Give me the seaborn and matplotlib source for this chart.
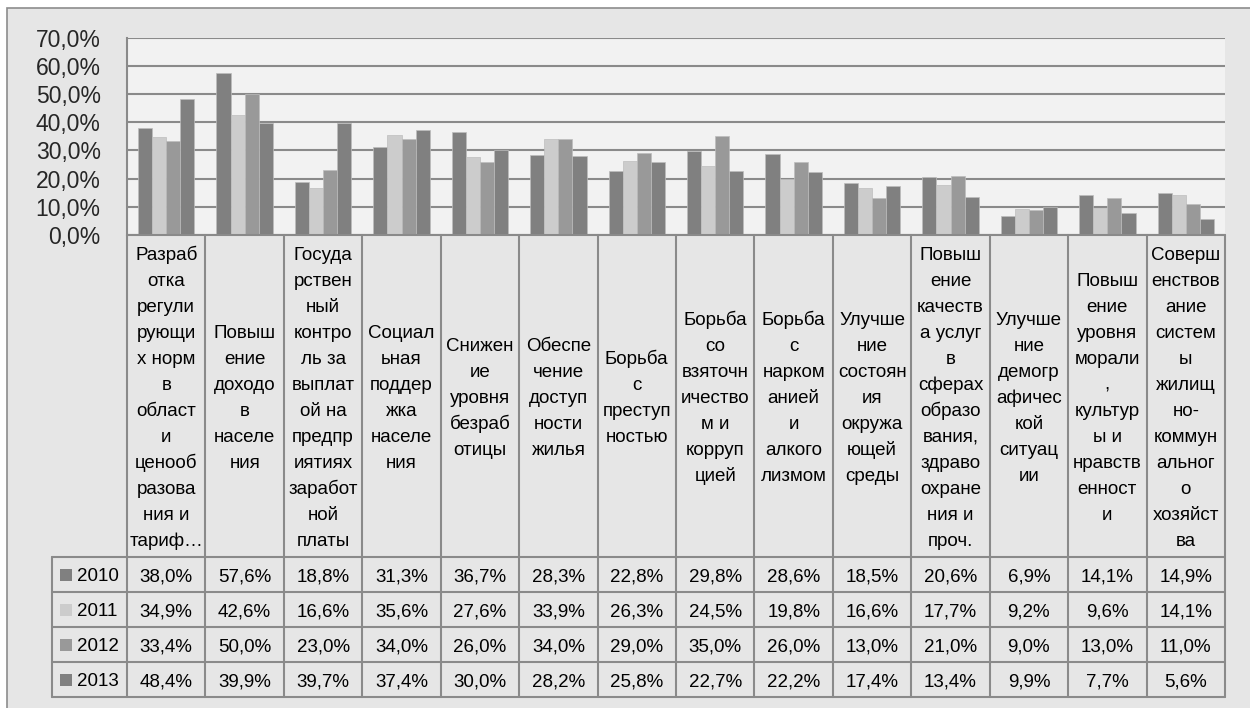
import numpy as np
import pandas as pd
import matplotlib
matplotlib.use("Agg")
import matplotlib.pyplot as plt
import matplotlib.transforms as mtransforms
from matplotlib.patches import Rectangle
from matplotlib.lines import Line2D
import seaborn as sns

# data
categories = [
    "Разраб\nотка\nрегули\nрующи\nх норм\nв\nобласт\nи\nценооб\nразова\nния и\nтариф…",
    "Повыш\nение\nдоходо\nв\nнаселе\nния",
    "Госуда\nрствен\nный\nконтро\nль за\nвыплат\nой на\nпредпр\nиятиях\nзаработ\nной\nплаты",
    "Социал\nьная\nподдер\nжка\nнаселе\nния",
    "Снижен\nие\nуровня\nбезраб\nотицы",
    "Обеспе\nчение\nдоступ\nности\nжилья",
    "Борьба\nс\nпреступ\nностью",
    "Борьба\nсо\nвзяточн\nичество\nм и\nкорруп\nцией",
    "Борьба\nс\nнарком\nанией\nи\nалкого\nлизмом",
    "Улучше\nние\nсостоян\nия\nокружа\nющей\nсреды",
    "Повыш\nение\nкачеств\nа услуг\nв\nсферах\nобразо\nвания,\nздраво\nохране\nния и\nпроч.",
    "Улучше\nние\nдемогр\nафичес\nкой\nситуац\nии",
    "Повыш\nение\nуровня\nморали\n,\nкультур\nы и\nнравств\nенност\nи",
    "Соверш\nенствов\nание\nсистем\nы\nжилищ\nно-\nкоммун\nальног\nо\nхозяйст\nва",
]
years = ["2010", "2011", "2012", "2013"]
v2010 = [38.0, 57.6, 18.8, 31.3, 36.7, 28.3, 22.8, 29.8, 28.6, 18.5, 20.6, 6.9, 14.1, 14.9]
v2011 = [34.9, 42.6, 16.6, 35.6, 27.6, 33.9, 26.3, 24.5, 19.8, 16.6, 17.7, 9.2, 9.6, 14.1]
v2012 = [33.4, 50.0, 23.0, 34.0, 26.0, 34.0, 29.0, 35.0, 26.0, 13.0, 21.0, 9.0, 13.0, 11.0]
v2013 = [48.4, 39.9, 39.7, 37.4, 30.0, 28.2, 25.8, 22.7, 22.2, 17.4, 13.4, 9.9, 7.7, 5.6]
series = [v2010, v2011, v2012, v2013]
colors = ["#808080", "#cccccc", "#999999", "#808080"]
yticks = [0, 10, 20, 30, 40, 50, 60, 70]

rows = []
for yr, vals in zip(years, series):
    for cat, v in zip(categories, vals):
        rows.append({"cat": cat, "year": yr, "val": v})
df = pd.DataFrame(rows)

sns.set_style("white")
plt.rcParams["font.family"] = ["Liberation Sans", "DejaVu Sans"]

W, H = 1250, 708
fig = plt.figure(figsize=(W / 100, H / 100), dpi=100, facecolor="white")

def fy(ypx):
    return 1 - ypx / H

LINE = "#8a8a8a"
BG = "#e6e6e6"
FS = 13.5

# outer chart area
fig.add_artist(Rectangle((7 / W, fy(760)), 1.2, 752 / H, transform=fig.transFigure,
                         facecolor=BG, edgecolor="#8c8c8c", lw=1.2, zorder=0))

left, right, top, bottom = 127, 1225, 37.7, 235
ax = fig.add_axes([left / W, fy(bottom), (right - left) / W, (bottom - top) / H])
ax.set_facecolor("#f2f2f2")

sns.barplot(data=df, x="cat", y="val", hue="year", order=categories, hue_order=years,
            palette=colors, width=0.72, saturation=1, legend=False, ax=ax,
            edgecolor="#bdbdbd", linewidth=0.5)

ax.set_xlim(-0.5, len(categories) - 0.5)
ax.set_ylim(0, 70)
ax.set_yticks(yticks)
ax.set_yticklabels([f"{t:.1f}%".replace(".", ",") for t in yticks], fontsize=16.5)
ax.tick_params(axis="y", length=0, pad=19)
ax.set_xticks([])
ax.set_xlabel("")
ax.set_ylabel("")
ax.yaxis.grid(True, color=LINE, lw=1.5)
ax.set_axisbelow(True)
for s in ["top", "right", "bottom"]:
    ax.spines[s].set_visible(False)
ax.spines["left"].set_color(LINE)
ax.spines["left"].set_linewidth(1.5)

# data table below the plot (x in data units, y in figure pixels)
tr = mtransforms.blended_transform_factory(ax.transData, fig.transFigure)
n = len(categories)
row_tops = [557, 592, 627, 662]
table_bottom = 697
legend_left = ax.transData.inverted().transform((51.7, 0))[0]

def hline(x0, x1, ypx):
    fig.add_artist(Line2D([x0, x1], [fy(ypx), fy(ypx)], transform=tr, color=LINE, lw=1.5))

def vline(x, y0, y1):
    fig.add_artist(Line2D([x, x], [fy(y0), fy(y1)], transform=tr, color=LINE, lw=1.5))

hline(-0.5, n - 0.5, bottom)
for yp in row_tops + [table_bottom]:
    hline(legend_left, n - 0.5, yp)
vline(legend_left, row_tops[0], table_bottom)
for i in range(n + 1):
    vline(i - 0.5, bottom, table_bottom)

# category labels, line by line
line_h = 26
cell_mid = (bottom + row_tops[0]) / 2
for i, cat in enumerate(categories):
    lines = cat.split("\n")
    first = cell_mid - (len(lines) - 1) * line_h / 2
    for k, ln in enumerate(lines):
        fig.text(i, fy(first + k * line_h + 6.8), ln, transform=tr, ha="center",
                 va="baseline", fontsize=FS, color="black")

# values and legend keys
for r, (yr, vals, c) in enumerate(zip(years, series, colors)):
    mid = row_tops[r] + 17.5
    for i, v in enumerate(vals):
        fig.text(i, fy(mid + 6.8), f"{v:.1f}%".replace(".", ","), transform=tr,
                 ha="center", va="baseline", fontsize=FS, color="black")
    fig.add_artist(Rectangle((60 / W, fy(mid + 6)), 12 / W, 12 / H, transform=fig.transFigure,
                             facecolor=c, edgecolor="none"))
    fig.text(77 / W, fy(mid + 6.8), yr, ha="left", va="baseline", fontsize=FS, color="black")

fig.savefig("out.png", dpi=100)
